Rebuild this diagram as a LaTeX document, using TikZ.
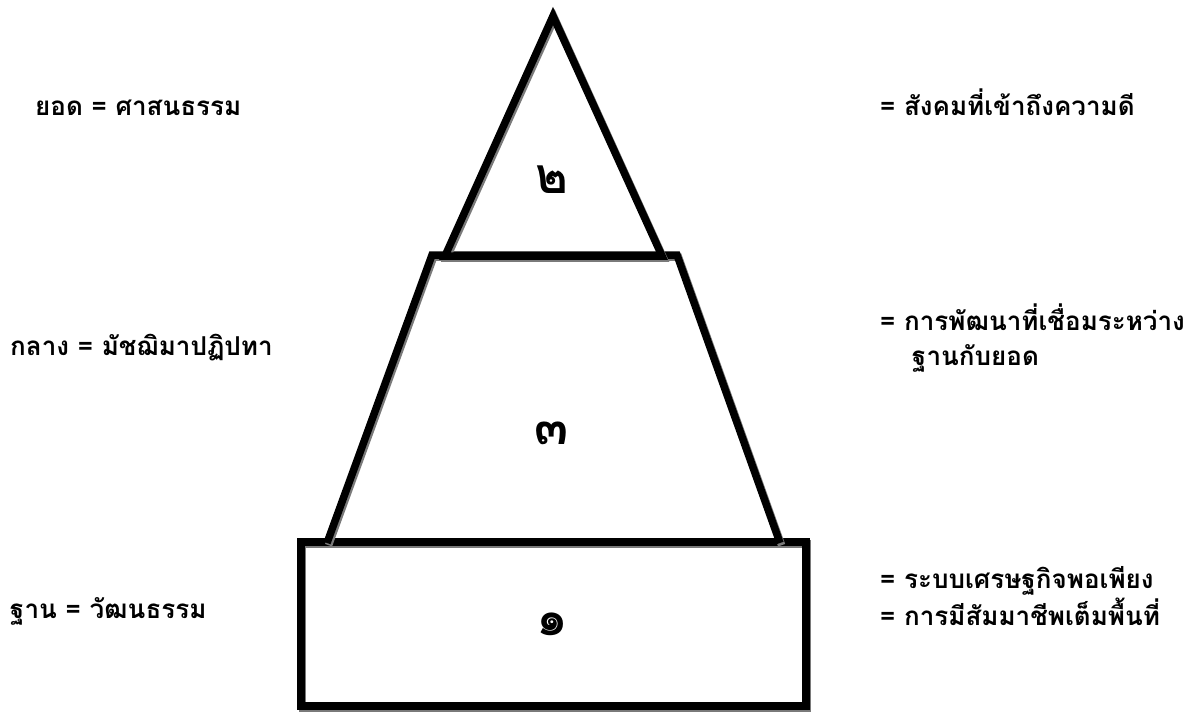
\documentclass[tikz,border=0pt]{standalone}
\usepackage{fontspec}
\newfontfamily\thaifont[Script=Thai]{Loma}
\usepackage{xcolor}
\definecolor{pyrShadow}{HTML}{7A7A7A}
\usetikzlibrary{positioning}

\begin{document}
\begin{tikzpicture}[
    x=1pt, y=-1pt,
    % thick outline with a grey drop shadow
    wall/.style={
        draw=black, line width=7.5pt, line join=miter,
        preaction={draw=pyrShadow, line width=7.5pt,
                   transform canvas={xshift=1.6pt, yshift=-2.2pt}}
    },
    lvl/.style={font=\thaifont\bfseries\fontsize{50}{52}\selectfont, inner sep=0pt},
    lbl/.style={font=\thaifont\bfseries\fontsize{26}{28}\selectfont,
                inner sep=0pt, anchor=base west},
]
\useasboundingbox (0,0) rectangle (1204,713);

%% =================================================================
%% Pyramid: base block, middle trapezoid, top triangle
%% =================================================================
\draw[wall] (301,542) rectangle (806,706);
\draw[wall] (327,543) -- (432,255) -- (677,255) -- (780,543);
\draw[wall] (445,256) -- (553,16) -- (662,256) -- cycle;

% level numbers
\node[lvl] at (552,180) (n2) {๒};
\node[lvl] at (552,433) (n3) {๓};
\node[lvl] at (552,624) (n1) {๑};

%% =================================================================
%% Left labels
%% =================================================================
\node[lbl] at (35,115)  (lTop) {ยอด = ศาสนธรรม};
\node[lbl] at (10,355)  (lMid) {กลาง = มัชฌิมาปฏิปทา};
\node[lbl] at (10,618)  (lBot) {ฐาน = วัฒนธรรม};

%% =================================================================
%% Right labels
%% =================================================================
\node[lbl] at (880,115) (rTop) {= สังคมที่เข้าถึงความดี};
\node[lbl] at (880,330) (rMidA) {= การพัฒนาที่เชื่อมระหว่าง};
\node[lbl] at (912,365) (rMidB) {ฐานกับยอด};
\node[lbl] at (880,588) (rBotA) {= ระบบเศรษฐกิจพอเพียง};
\node[lbl] at (880,625) (rBotB) {= การมีสัมมาชีพเต็มพื้นที่};

\end{tikzpicture}
\end{document}
